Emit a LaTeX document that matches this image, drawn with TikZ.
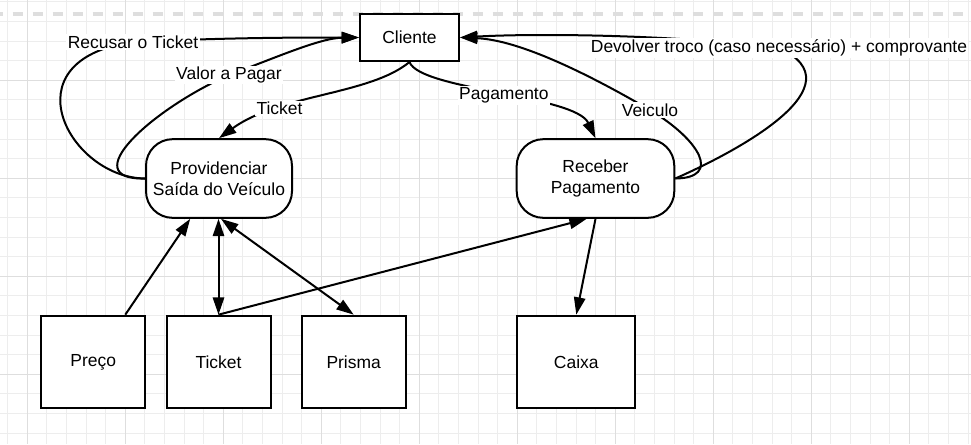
\documentclass[tikz,border=0pt]{standalone}
\usepackage{fontspec}
\setmainfont{Liberation Sans}
\usetikzlibrary{arrows.meta}

\begin{document}
\begin{tikzpicture}[x=0.75pt, y=-0.75pt, line width=1.5pt, >={Triangle[length=13pt,width=8.5pt]}, font=\fontsize{13.1}{15.5}\selectfont, gridminor/.style={draw=black!7, line width=0.75pt}, gridmajor/.style={draw=black!13, line width=0.75pt}]
			\tikzstyle{box}=[draw, fill=white, minimum width=78pt, minimum height=69.5pt, align=center]
			\tikzstyle{proc}=[draw, fill=white, rounded corners=20pt, minimum height=59pt, align=center]
			\tikzstyle{annot}=[fill=white, inner sep=1pt]

			\useasboundingbox (0,0) rectangle (971,444);
			\fill[white] (0,0) rectangle (971,444);

			% Draw grid
			\foreach \i in {0,...,49} \draw[gridminor] ({7.7+19.6*\i},0) -- ({7.7+19.6*\i},444);
			\foreach \j in {0,...,22} \draw[gridminor] (0,{1.9+19.6*\j}) -- (971,{1.9+19.6*\j});
			\foreach \i in {0,...,9} \draw[gridmajor] ({27.3+98*\i},0) -- ({27.3+98*\i},444);
			\foreach \j in {0,...,3} \draw[gridmajor] (0,{80.3+98*\j}) -- (971,{80.3+98*\j});
			\draw[black!13, line width=3pt, dash pattern=on 7.5pt off 7.5pt, dash phase=5.5pt] (0,14) -- (971,14);

			% Draw processes and stores
			\node[box, minimum width=74.25pt, minimum height=35.25pt] (cliente) at (409.5,37.5) {Cliente};
			\node[proc, minimum width=109.5pt] (prov) at (219,178.5) {Providenciar\\Saída do Veículo};
			\node[proc, minimum width=118.2pt] (rec) at (595.5,178.5) {Receber\\Pagamento};
			\node[box] (preco) at (93.3,362) {Preço};
			\node[box] (ticket) at (218.5,362) {Ticket};
			\node[box] (prisma) at (353.7,362) {Prisma};
			\node[box, minimum width=88.5pt] (caixa) at (576.3,362) {Caixa};

			% Draw flows to and from Cliente
			\draw[->] (cliente.south) .. controls (369.5,95) and (280,94) .. (prov.north) node[annot, pos=0.7] {Ticket};
			\draw[->] (cliente.south) .. controls (420,90) and (575,95) .. (rec.north) node[annot, pos=0.52] {Pagamento};
			\draw[->] (prov.west) .. controls (70,178) and (5,60) .. (133,42) node[annot] {Recusar o Ticket} .. controls (230,37.5) and (300,37.5) .. (cliente.west);
			\draw[->] (prov.west) .. controls (75,180) and (150,110) .. (229,75) node[annot] {Valor a Pagar} .. controls (275,58) and (320,38) .. (cliente.west);
			\draw[->] (rec.east) .. controls (722,178) and (700,140) .. (650,110) node[annot] {Veiculo} .. controls (590,75) and (520,40) .. (cliente.east);
			\draw[->] (rec.east) .. controls (740,150) and (860,85) .. (779,48) node[annot] {Devolver troco (caso necessário) + comprovante} .. controls (680,35) and (540,33) .. (cliente.east);

			% Draw flows to the stores
			\path[->] ([xshift=24pt]preco.north) edge ([xshift=-21.6pt]prov.south);
			\path[<->] (ticket.north) edge (ticket.north |- prov.south);
			\path[<->] ([xshift=1.5pt]prov.south) edge (prisma.north);
			\path[->] (ticket.north) edge ([xshift=-6.6pt]rec.south);
			\path[->] (rec.south) edge (caixa.north);

		\end{tikzpicture}
\end{document}
